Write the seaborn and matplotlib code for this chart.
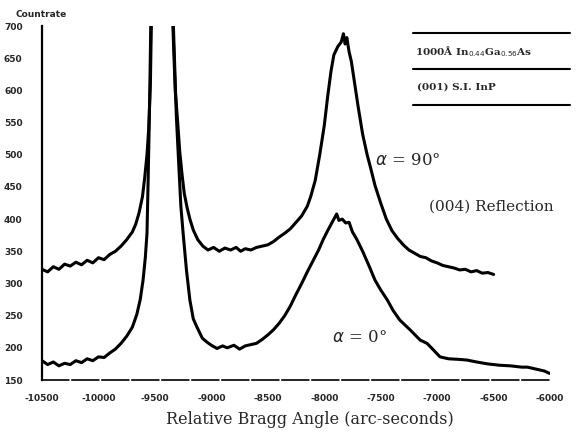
import pandas as pd
import seaborn as sns
import matplotlib.pyplot as plt

# alpha = 90 deg scan (upper curve)
angle_90 = [-10500, -10450, -10400, -10350, -10300, -10250, -10200, -10150, -10100, -10050,
            -10000, -9950, -9900, -9850, -9800, -9750, -9700, -9670, -9640, -9610,
            -9590, -9570, -9555, -9540, -9530, -9440, -9345, -9320, -9300, -9280,
            -9260, -9240, -9215, -9190, -9160, -9120, -9075, -9030, -8980, -8930,
            -8880, -8830, -8780, -8740, -8700, -8650, -8600, -8550, -8500, -8450,
            -8400, -8350, -8300, -8250, -8200, -8150, -8120, -8080, -8040, -8000,
            -7970, -7940, -7915, -7880, -7850, -7830, -7815, -7800, -7780, -7760,
            -7730, -7700, -7660, -7620, -7590, -7550, -7500, -7450, -7400, -7350,
            -7300, -7250, -7200, -7150, -7100, -7050, -7000, -6950, -6900, -6850,
            -6800, -6750, -6700, -6650, -6600, -6550, -6500]
count_90 = [322, 318, 326, 322, 330, 327, 333, 329, 336, 332,
            340, 337, 345, 350, 358, 368, 380, 392, 410, 435,
            465, 500, 540, 610, 720, 3000, 720, 600, 555, 505,
            470, 440, 418, 400, 383, 368, 358, 352, 356, 350,
            355, 352, 356, 350, 354, 352, 356, 358, 360, 365,
            372, 378, 385, 395, 405, 420, 435, 460, 500, 545,
            590, 630, 655, 668, 675, 688, 672, 682, 660, 645,
            610, 575, 532, 500, 480, 452, 425, 400, 382, 370,
            360, 352, 347, 342, 340, 335, 332, 328, 326, 324,
            321, 322, 318, 320, 316, 317, 314]

# alpha = 0 deg scan (lower curve)
angle_0 = [-10500, -10450, -10400, -10350, -10300, -10250, -10200, -10150, -10100, -10050,
           -10000, -9950, -9900, -9850, -9800, -9750, -9700, -9660, -9630, -9605,
           -9585, -9570, -9560, -9545, -9535, -9440, -9340, -9310, -9295, -9270,
           -9250, -9220, -9190, -9160, -9127, -9080, -9040, -9000, -8950, -8900,
           -8860, -8800, -8750, -8700, -8650, -8600, -8550, -8500, -8450, -8400,
           -8350, -8300, -8250, -8200, -8150, -8100, -8050, -8010, -7970, -7930,
           -7890, -7870, -7840, -7810, -7780, -7750, -7710, -7660, -7600, -7550,
           -7500, -7440, -7390, -7330, -7240, -7150, -7090, -7040, -6975, -6900,
           -6800, -6735, -6650, -6550, -6450, -6350, -6250, -6200, -6100, -6050,
           -6000]
count_0 = [180, 174, 178, 172, 176, 174, 180, 177, 183, 180,
           186, 185, 192, 198, 207, 218, 232, 252, 275, 305,
           340, 378, 460, 600, 720, 3000, 720, 560, 507, 420,
           378, 320, 274, 245, 232, 215, 209, 204, 199, 203,
           200, 204, 198, 203, 205, 207, 213, 220, 228, 238,
           250, 265, 283, 300, 318, 335, 352, 368, 382, 395,
           408, 398, 400, 394, 395, 380, 368, 350, 326, 305,
           290, 274, 258, 243, 228, 212, 207, 198, 186, 183,
           182, 181, 178, 175, 173, 172, 170, 170, 166, 164,
           160]

x_ticks = [-10500, -10000, -9500, -9000, -8500, -8000, -7500, -7000, -6500, -6000]
y_ticks = [150, 200, 250, 300, 350, 400, 450, 500, 550, 600, 650, 700]

df = pd.concat([
    pd.DataFrame({"angle": angle_90, "counts": count_90, "scan": "90"}),
    pd.DataFrame({"angle": angle_0, "counts": count_0, "scan": "0"}),
], ignore_index=True)

sns.set_style("white")
plt.rcParams['font.family'] = ['DejaVu Sans']

fig = plt.figure(figsize=(5.81, 4.37), dpi=100)
ax = fig.add_axes([0.0723, 0.1304, 0.8744, 0.8101])

sns.lineplot(data=df, x="angle", y="counts", units="scan", estimator=None,
             sort=False, color="black", linewidth=2.2, ax=ax)

ax.set_xlim(-10500, -6000)
ax.set_ylim(150, 700)
ax.set_xticks(x_ticks)
ax.set_yticks(y_ticks)
ax.set_xticklabels([str(t) for t in x_ticks], fontsize=6.5, fontweight="bold")
ax.set_yticklabels([str(t) for t in y_ticks], fontsize=6.5, fontweight="bold")
ax.tick_params(axis="y", direction="out", length=4, width=1.2, pad=10, color="black")
ax.tick_params(axis="x", direction="out", length=4, width=1.2, pad=6, color="black")
ax.set_xlabel("")
ax.set_ylabel("")

for s in ["top", "right"]:
    ax.spines[s].set_visible(False)
ax.spines["left"].set_linewidth(1.6)
ax.spines["left"].set_color("black")
ax.spines["bottom"].set_linewidth(1.2)
ax.spines["bottom"].set_color("black")
ax.spines["bottom"].set_linestyle((0, (16, 2)))

fig.text(0.026, 0.966, "Countrate", fontsize=6.5, fontweight="bold", va="center", ha="left")
fig.text(0.534, 0.04, "Relative Bragg Angle (arc-seconds)", family="DejaVu Serif",
         fontsize=11.5, ha="center", va="center")

ax.text(0.655, 0.621, r"$\alpha$ = 90°", transform=ax.transAxes, family="DejaVu Serif",
        fontsize=12, va="center", ha="left")
ax.text(0.571, 0.121, r"$\alpha$ = 0°", transform=ax.transAxes, family="DejaVu Serif",
        fontsize=12, va="center", ha="left")
ax.text(0.762, 0.489, "(004) Reflection", transform=ax.transAxes, family="DejaVu Serif",
        fontsize=11, va="center", ha="left")

# layer stack box at top right
for yy in [0.980, 0.879, 0.777]:
    ax.plot([0.730, 1.039], [yy, yy], transform=ax.transAxes, color="black",
            linewidth=1.5, clip_on=False)
ax.text(0.734, 0.927, r"1000Å In$_{0.44}$Ga$_{0.56}$As", transform=ax.transAxes,
        family="DejaVu Serif", fontweight="bold", fontsize=7.5, va="center", ha="left")
ax.text(0.738, 0.828, "(001) S.I. InP", transform=ax.transAxes,
        family="DejaVu Serif", fontweight="bold", fontsize=7.5, va="center", ha="left")

fig.savefig("out.png", dpi=100)
